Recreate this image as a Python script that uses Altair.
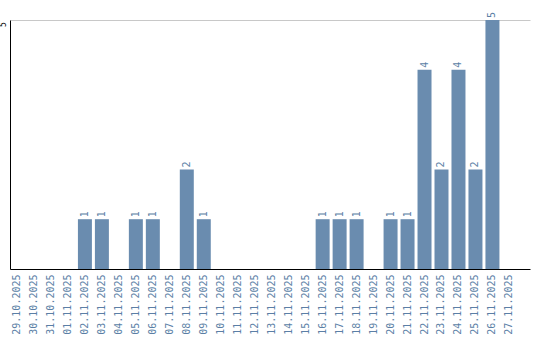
import altair as alt
import pandas as pd

dates = ["29.10.2025", "30.10.2025", "31.10.2025", "01.11.2025", "02.11.2025", "03.11.2025",
         "04.11.2025", "05.11.2025", "06.11.2025", "07.11.2025", "08.11.2025", "09.11.2025",
         "10.11.2025", "11.11.2025", "12.11.2025", "13.11.2025", "14.11.2025", "15.11.2025",
         "16.11.2025", "17.11.2025", "18.11.2025", "19.11.2025", "20.11.2025", "21.11.2025",
         "22.11.2025", "23.11.2025", "24.11.2025", "25.11.2025", "26.11.2025", "27.11.2025"]
counts = [0, 0, 0, 0, 1, 1, 0, 1, 1, 0, 2, 1, 0, 0, 0, 0, 0, 0,
          1, 1, 1, 0, 1, 1, 4, 2, 4, 2, 5, 0]

df = pd.DataFrame({"date": dates, "count": counts})
color = "#6a8caf"

x = alt.X("date:N", sort=dates, title=None,
          scale=alt.Scale(paddingInner=0.176, paddingOuter=0.4, align=0),
          axis=alt.Axis(labelAngle=270, labelColor="#5b7fa6", labelFont="DejaVu Sans Mono",
                        labelFontSize=10, ticks=False, domainColor="black", labelPadding=5,
                        labelAlign="right", labelBaseline="middle"))
y = alt.Y("count:Q", title=None, scale=alt.Scale(domain=[0, 5], nice=False),
          axis=alt.Axis(values=[5], labelAngle=270, labelFontSize=8, labelFont="DejaVu Sans Mono",
                        labelColor="black", ticks=False, domainColor="black", gridColor="#c8c8c8",
                        labelPadding=3, labelAlign="center", labelBaseline="bottom",
                        labelOffset=4))

bars = alt.Chart(df).mark_bar(color=color).encode(x=x, y=y)
labels = alt.Chart(df).transform_filter("datum.count > 0").mark_text(
    angle=270, align="left", baseline="middle", dx=2, fontSize=10,
    font="DejaVu Sans Mono", color="#5b7fa6").encode(x=x, y=y, text="count:Q")

chart = (bars + labels).properties(
    width=520, height=249,
    autosize=alt.AutoSizeParams(type="none"),
    padding={"left": 10, "top": 20, "right": 10, "bottom": 71},
).configure_view(stroke=None)

chart.save("out.html", embed_options={"renderer": "svg", "actions": False})
